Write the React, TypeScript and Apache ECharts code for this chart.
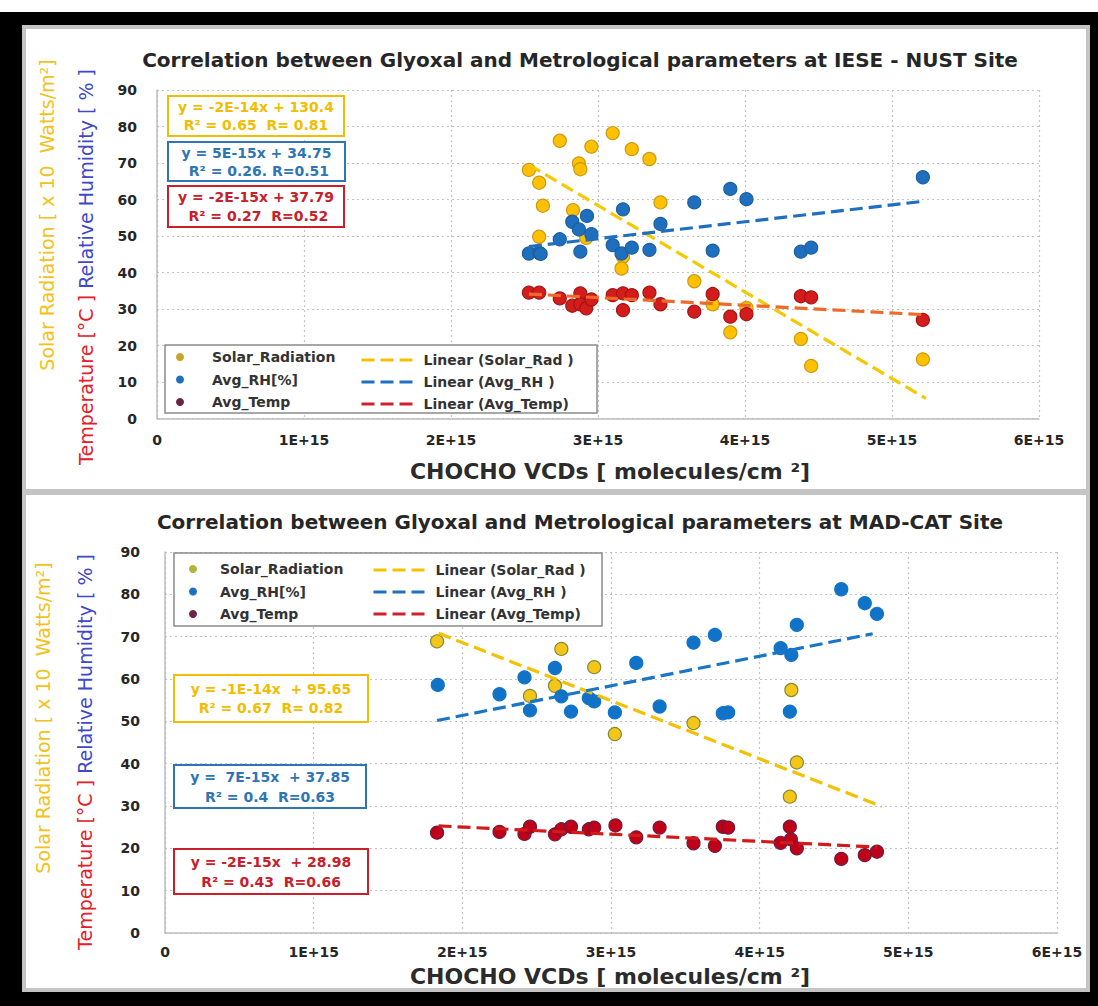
import React, { useEffect, useRef } from "react";
import * as echarts from "echarts";

// X values are CHOCHO VCDs in units of 1E+15 molecules/cm²
const xTickLabels = ["0", "1E+15", "2E+15", "3E+15", "4E+15", "5E+15", "6E+15"];

// ---- IESE - NUST site (top) ----
const topSolar = [
  [2.53, 68.1], [2.6, 64.6], [2.625, 58.3], [2.6, 49.8], [2.74, 76.1], [2.87, 69.9], [2.88, 68.3],
  [2.955, 74.5], [3.1, 78.2], [3.23, 73.8], [3.35, 71.1], [2.83, 57.1], [2.92, 49.5], [3.17, 44.3],
  [3.16, 41.1], [3.425, 59.2], [3.655, 37.6], [3.78, 31.3], [4.01, 30.3], [3.9, 23.6], [4.38, 21.8],
  [4.45, 14.4], [5.21, 16.2],
];
const topRH = [
  [2.53, 45.2], [2.6, 45.4], [2.61, 45.1], [2.74, 49.1], [2.825, 53.9], [2.87, 51.8], [2.925, 55.5],
  [2.88, 45.7], [2.955, 50.5], [3.1, 47.5], [3.17, 57.3], [3.16, 45.2], [3.23, 46.8], [3.35, 46.2],
  [3.425, 53.3], [3.655, 59.2], [3.78, 46.0], [3.9, 62.9], [4.01, 60.1], [4.38, 45.7], [4.45, 46.8],
  [5.21, 66.1],
];
const topTemp = [
  [2.53, 34.5], [2.6, 34.5], [2.74, 32.9], [2.825, 30.9], [2.88, 34.3], [2.88, 31.3], [2.92, 30.2],
  [2.955, 32.6], [3.1, 33.8], [3.17, 34.3], [3.17, 29.7], [3.23, 33.8], [3.35, 34.5], [3.425, 31.3],
  [3.655, 29.3], [3.78, 34.1], [3.9, 27.9], [4.01, 28.6], [4.38, 33.5], [4.45, 33.2], [5.21, 27.0],
];
const topTrendSolar = [[2.53, 69.5], [5.23, 5.5]];
const topTrendRH = [[2.53, 47.1], [5.19, 59.4]];
const topTrendTemp = [[2.53, 34.1], [5.2, 28.5]];

// ---- MAD-CAT site (bottom) ----
const botSolar = [
  [1.83, 68.9], [2.666, 67.1], [2.887, 62.8], [2.455, 56.0], [2.623, 58.4], [3.026, 47.0],
  [3.555, 49.6], [4.213, 57.4], [4.25, 40.3], [4.203, 32.2],
];
const botRH = [
  [1.835, 58.6], [2.25, 56.4], [2.418, 60.4], [2.455, 52.6], [2.623, 62.6], [2.666, 55.9],
  [2.731, 52.3], [2.851, 55.5], [2.887, 54.7], [3.026, 52.1], [3.17, 63.8], [3.327, 53.5],
  [3.555, 68.6], [3.699, 70.4], [3.752, 51.9], [3.788, 52.1], [4.141, 67.3], [4.213, 65.7],
  [4.203, 52.3], [4.25, 72.8], [4.549, 81.2], [4.707, 77.9], [4.789, 75.4],
];
const botTemp = [
  [1.83, 23.7], [2.25, 23.9], [2.418, 23.4], [2.455, 25.1], [2.623, 23.3], [2.666, 24.5],
  [2.731, 25.1], [2.851, 24.5], [2.887, 24.9], [3.03, 25.4], [3.17, 22.6], [3.327, 24.9],
  [3.555, 21.2], [3.699, 20.6], [3.752, 25.1], [3.788, 24.9], [4.141, 21.3], [4.21, 22.1],
  [4.203, 25.1], [4.25, 20.0], [4.549, 17.5], [4.707, 18.4], [4.789, 19.2],
];
const botTrendSolar = [[1.84, 70.8], [4.82, 29.9]];
const botTrendRH = [[1.83, 50.2], [4.76, 70.7]];
const botTrendTemp = [[1.84, 25.3], [4.79, 20.3]];

const scatterNames = ["Solar_Radiation", "Avg_RH[%]", "Avg_Temp"];
const lineNames = ["Linear (Solar_Rad )", "Linear (Avg_RH )", "Linear (Avg_Temp)"];

const titles = [
  "Correlation between Glyoxal and Metrological parameters at IESE - NUST Site",
  "Correlation between Glyoxal and Metrological parameters at MAD-CAT Site",
];
const xAxisName = "CHOCHO VCDs [ molecules/cm ²]";
const yNameSolar = "Solar Radiation [ x 10  Watts/m²]";
const yNameTemp = "Temperature [°C ]";
const yNameRH = "Relative Humidity [ % ]";

const topEquations = [
  "y = -2E-14x + 130.4\nR² = 0.65  R= 0.81",
  "y = 5E-15x + 34.75\n R² = 0.26. R=0.51",
  "y = -2E-15x + 37.79\n R² = 0.27  R=0.52",
];
const botEquations = [
  "y = -1E-14x  + 95.65\nR² = 0.67  R= 0.82",
  "y =  7E-15x  + 37.85\nR² = 0.4  R=0.63",
  "y = -2E-15x  + 28.98\nR² = 0.43  R=0.66",
];

const FONT = "DejaVu Sans";
const GOLD = "#f2bd00";
const BLUE = "#1f6fbf";
const RED = "#c8202a";
const DASH = [13, 6];

function xAxis(gridIndex: number, margin: number) {
  return {
    type: "value",
    gridIndex,
    min: 0,
    max: 6,
    interval: 1,
    axisLine: { show: true, onZero: false, lineStyle: { color: "#bdbdbd", width: 1.5 } },
    axisTick: { show: false },
    axisLabel: {
      margin,
      color: "#262626",
      fontWeight: "bold",
      fontSize: 14,
      fontFamily: FONT,
      formatter: (v: number) => xTickLabels[Math.round(v)],
    },
    splitLine: { show: true, lineStyle: { color: "#c4c4c4", type: [2, 3], width: 1.2 } },
  };
}
function yAxis(gridIndex: number, margin: number) {
  return {
    type: "value",
    gridIndex,
    min: 0,
    max: 90,
    interval: 10,
    axisLine: { show: true, lineStyle: { color: "#bdbdbd", width: 1.5 } },
    axisTick: { show: false },
    axisLabel: { margin, color: "#262626", fontWeight: "bold", fontSize: 14, fontFamily: FONT },
    splitLine: { show: true, lineStyle: { color: "#c4c4c4", type: [2, 3], width: 1.2 } },
  };
}

function scatter(name: string, idx: number, data: number[][], fill: string, border: string) {
  return {
    type: "scatter",
    name,
    xAxisIndex: idx,
    yAxisIndex: idx,
    data,
    symbolSize: 13,
    itemStyle: { color: fill, borderColor: border, borderWidth: 1.2, opacity: 1 },
    z: 2,
  };
}
function trend(name: string, idx: number, data: number[][], color: string) {
  return {
    type: "line",
    name,
    xAxisIndex: idx,
    yAxisIndex: idx,
    data,
    symbol: "none",
    lineStyle: { color, width: 3.2, type: DASH },
    itemStyle: { color },
    z: 3,
  };
}

const legendText = { fontFamily: FONT, fontWeight: "bold", fontSize: 14, color: "#333", lineHeight: 16 };

function legendScatter(left: number, top: number, textPad: number, solarColor: string) {
  return {
    left,
    top,
    padding: 0,
    orient: "vertical",
    itemWidth: 8,
    itemHeight: 8,
    itemGap: 6.5,
    selectedMode: false,
    textStyle: { ...legendText, padding: [0, 0, 0, textPad] },
    z: 6,
    data: [
      { name: scatterNames[0], icon: "circle", itemStyle: { color: solarColor, borderWidth: 0 } },
      { name: scatterNames[1], icon: "circle", itemStyle: { color: "#2070c0", borderWidth: 0 } },
      { name: scatterNames[2], icon: "circle", itemStyle: { color: "#6d2347", borderWidth: 0 } },
    ],
  };
}
function legendLines(left: number, top: number) {
  const hidden = { opacity: 0, borderWidth: 0 };
  return {
    left,
    top,
    padding: 0,
    orient: "vertical",
    itemWidth: 53,
    itemHeight: 8,
    itemGap: 6,
    selectedMode: false,
    textStyle: { ...legendText, padding: [0, 0, 0, 4] },
    z: 6,
    data: [
      { name: lineNames[0], itemStyle: hidden, lineStyle: { color: "#f5c000", width: 3, type: DASH } },
      { name: lineNames[1], itemStyle: hidden, lineStyle: { color: "#2070c0", width: 3, type: DASH } },
      { name: lineNames[2], itemStyle: hidden, lineStyle: { color: "#d0202a", width: 3, type: DASH } },
    ],
  };
}

function eqBox(x: number, y: number, w: number, h: number, text: string, color: string, fontSize: number, lh: number) {
  return [
    {
      type: "rect",
      z: 5,
      shape: { x, y, width: w, height: h },
      style: { fill: "#fff", stroke: color, lineWidth: 2 },
    },
    {
      type: "text",
      z: 6,
      x: x + w / 2,
      y: y + h / 2,
      style: {
        text,
        fill: color,
        font: `bold ${fontSize}px "${FONT}"`,
        align: "center",
        verticalAlign: "middle",
        lineHeight: lh,
      },
    },
  ];
}

function yNames(xSolar: number, ySolar: number, xTemp: number, yTemp: number) {
  const f = `19px "${FONT}"`;
  return [
    {
      type: "text",
      z: 6,
      x: xSolar,
      y: ySolar,
      rotation: Math.PI / 2,
      style: { text: yNameSolar, fill: "#f2c21b", font: f, align: "center", verticalAlign: "middle" },
    },
    {
      type: "text",
      z: 6,
      x: xTemp,
      y: yTemp,
      rotation: Math.PI / 2,
      style: {
        text: `{r|${yNameTemp}} {b|${yNameRH}}`,
        font: f,
        align: "center",
        verticalAlign: "middle",
        rich: {
          r: { fill: "#e3202c", font: f },
          b: { fill: "#3f48c8", font: f },
        },
      },
    },
  ];
}

function titleText(text: string, y: number) {
  return {
    type: "text",
    z: 6,
    x: 580,
    y,
    style: {
      text,
      fill: "#262626",
      font: `bold 20px "${FONT}"`,
      align: "center",
      verticalAlign: "middle",
    },
  };
}
function axisNameText(y: number) {
  return {
    type: "text",
    z: 6,
    x: 610,
    y,
    style: {
      text: xAxisName,
      fill: "#2b2b2b",
      font: `bold 22px "${FONT}"`,
      align: "center",
      verticalAlign: "middle",
    },
  };
}

export default function App() {
  const ref = useRef<HTMLDivElement>(null);
  useEffect(() => {
    if (!ref.current) return;
    const chart = echarts.init(ref.current, undefined, { renderer: "svg" });
    const option: any = {
      animation: false,
      backgroundColor: "transparent",
      grid: [
        { left: 157, top: 90, width: 882, height: 328.5 },
        { left: 165, top: 552, width: 892, height: 381 },
      ],
      xAxis: [xAxis(0, 14), xAxis(1, 12)],
      yAxis: [yAxis(0, 20), yAxis(1, 25)],
      legend: [
        legendScatter(176, 349, 23, "#c9a227"),
        legendLines(360, 352),
        legendScatter(189, 561, 18, "#b0b43a"),
        legendLines(372, 562),
      ],
      series: [
        scatter(scatterNames[0], 0, topSolar, "#ffc000", "#c99a10"),
        scatter(scatterNames[1], 0, topRH, BLUE, "#1d5fa0"),
        scatter(scatterNames[2], 0, topTemp, "#d41c1c", "#a51414"),
        trend(lineNames[0], 0, topTrendSolar, "#f5c800"),
        trend(lineNames[1], 0, topTrendRH, "#1f6fc0"),
        trend(lineNames[2], 0, topTrendTemp, "#ee6a2a"),
        scatter(scatterNames[0], 1, botSolar, "#f5c518", "#7d8c3a"),
        scatter(scatterNames[1], 1, botRH, "#1173c8", "#1173c8"),
        scatter(scatterNames[2], 1, botTemp, "#c00018", "#6b1d3d"),
        trend(lineNames[0], 1, botTrendSolar, "#f5c000"),
        trend(lineNames[1], 1, botTrendRH, "#1a75c4"),
        trend(lineNames[2], 1, botTrendTemp, "#d21a1a"),
      ],
      graphic: [
        titleText(titles[0], 60),
        titleText(titles[1], 522),
        axisNameText(471),
        axisNameText(976),
        ...yNames(47, 215, 86, 267),
        ...yNames(43, 718, 85, 752),
        { type: "rect", z: 5, shape: { x: 165, y: 345, width: 432, height: 68 }, style: { fill: "#fff", stroke: "#8a8a8a", lineWidth: 1.5 } },
        { type: "rect", z: 5, shape: { x: 174, y: 553, width: 428, height: 73 }, style: { fill: "#fff", stroke: "#8a8a8a", lineWidth: 1.5 } },
        ...eqBox(168, 96, 176, 40, topEquations[0], GOLD, 14, 18),
        ...eqBox(168, 142, 177, 39, topEquations[1], "#2e75b6", 14, 18),
        ...eqBox(168, 186, 176, 41, topEquations[2], RED, 14, 19),
        ...eqBox(174, 675, 194, 47, botEquations[0], GOLD, 14, 19),
        ...eqBox(174, 765, 192, 43, botEquations[1], "#2e75b6", 14, 20),
        ...eqBox(174, 849, 194, 45, botEquations[2], RED, 14, 20),
      ],
    };
    chart.setOption(option);
    return () => chart.dispose();
  }, []);

  return (
    <div style={{ position: "absolute", left: 0, top: 0, width: 1098, height: 1006, background: "#fff", overflow: "hidden" }}>
      <div style={{ position: "absolute", left: 0, top: 12, width: 1098, height: 994, background: "#000" }} />
      <div style={{ position: "absolute", left: 22, top: 25, width: 1068, height: 468, background: "#fff", border: "4px solid #c4c4c4", boxSizing: "border-box" }} />
      <div style={{ position: "absolute", left: 22, top: 491, width: 1068, height: 501, background: "#fff", border: "4px solid #c4c4c4", boxSizing: "border-box" }} />
      <div ref={ref} style={{ position: "absolute", left: 0, top: 0, width: 1098, height: 1006 }} />
    </div>
  );
}
